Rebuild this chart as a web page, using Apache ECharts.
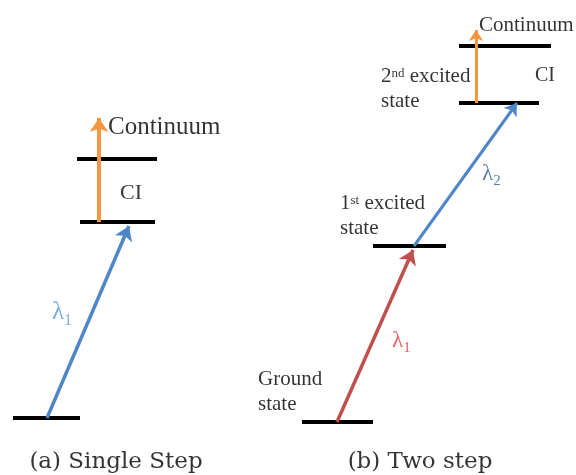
<!DOCTYPE html>
<html><head><meta charset="utf-8">
<script src="https://cdn.jsdelivr.net/npm/echarts@6/dist/echarts.min.js"></script>
<style>html,body{margin:0;padding:0;background:#fff}#c{width:576px;height:475px}</style>
</head><body><div id="c"></div>
<script>
// Energy levels (diagram coordinates): start x, end x, level height
const levelX0 = [13, 80, 77, 302, 373, 459, 459];
const levelX1 = [80, 155, 157, 373, 446, 539, 551];
const levelY  = [418, 222, 159, 422, 246, 103, 46];

// Transitions: from -> to
const arrowFrom = [[47, 418], [99, 222], [337, 422], [414, 246], [476, 103]];
const arrowTo   = [[129, 226], [99, 118], [413, 250], [517, 103], [476, 30]];
const arrowKind = ['blueA', 'orange', 'red', 'blueB', 'orangeS'];

// Text labels
const labelText = ['Continuum', 'CI', 'λ1', 'Continuum', 'CI', '2nd excited|state', '1st excited|state', 'Ground|state', 'λ2', 'λ1b', '(a) Single Step', '(b) Two step'];
const labelPos  = [[108, 127], [131, 193], [52, 312], [479, 25], [535, 76], [381, 89], [340, 216], [258, 392], [482, 173], [392, 340], [116, 462], [420, 462]];

const serif = '"Liberation Serif", "Times New Roman", serif';
const styles = {
  blueA:   {color: '#4f86c6', width: 3.5, size: [12, 14]},
  orange:  {color: '#f7963f', width: 4, size: [15, 14]},
  red:     {color: '#c0504d', width: 3.5, size: [12, 14]},
  blueB:   {color: '#4f86c6', width: 3, size: [11, 12]},
  orangeS: {color: '#f7963f', width: 3, size: [11, 11]}
};

const levelData = levelY.map((y, i) => ({coords: [[levelX0[i], y], [levelX1[i], y]]}));
const arrowSeries = arrowFrom.map((f, i) => {
  const s = styles[arrowKind[i]];
  return {
    type: 'lines', coordinateSystem: 'cartesian2d', z: 3,
    symbol: ['none', 'arrow'], symbolSize: s.size,
    lineStyle: {color: s.color, width: s.width, opacity: 1},
    data: [{coords: [f, arrowTo[i]]}]
  };
});

function fmt(t) {
  if (t === 'λ1') return '{la|λ}{subA|1}';
  if (t === 'λ1b') return '{lr|λ}{subR|1}';
  if (t === 'λ2') return '{lb|λ}{subB|2}';
  if (t.indexOf('|') >= 0) {
    const [a, b] = t.split('|');
    const m = a.match(/^(\d)(st|nd)( .*)$/);
    const first = m ? '{s|' + m[1] + '}{sup|' + m[2] + '}{s|' + m[3] + '}' : '{s|' + a + '}';
    return first + '\n{s|' + b + '}';
  }
  return t;
}
function labelStyle(i) {
  const t = labelText[i];
  if (t === 'Continuum' && i === 0) return {fontSize: 25, align: 'left'};
  if (t === 'Continuum') return {fontSize: 21, align: 'left'};
  if (t === 'CI' && i === 1) return {fontSize: 22, align: 'center'};
  if (t === 'CI') return {fontSize: 20, align: 'left'};
  if (t.startsWith('(')) return {fontSize: 23, align: 'center', fontFamily: '"DejaVu Serif", serif'};
  return {align: 'left'};
}
const rich = {
  s: {fontFamily: serif, fontSize: 21, color: '#000', lineHeight: 25, verticalAlign: 'middle'},
  sup: {fontFamily: serif, fontSize: 13, color: '#000', lineHeight: 25, verticalAlign: 'top', padding: [3, 0, 0, 0]},
  la: {fontFamily: serif, fontSize: 25, color: '#5b9bd5', lineHeight: 26, verticalAlign: 'bottom'},
  subA: {fontFamily: serif, fontSize: 16, color: '#5b9bd5', lineHeight: 16, verticalAlign: 'bottom', padding: [0, 0, -4, 0]},
  lr: {fontFamily: serif, fontSize: 23, color: '#e2343f', lineHeight: 24, verticalAlign: 'bottom'},
  subR: {fontFamily: serif, fontSize: 15, color: '#e2343f', lineHeight: 15, verticalAlign: 'bottom', padding: [0, 0, -4, 0]},
  lb: {fontFamily: serif, fontSize: 23, color: '#2f5d9a', lineHeight: 24, verticalAlign: 'bottom'},
  subB: {fontFamily: serif, fontSize: 15, color: '#2f5d9a', lineHeight: 15, verticalAlign: 'bottom', padding: [0, 0, -4, 0]}
};
const textData = labelText.map((t, i) => {
  const st = labelStyle(i);
  return {
    value: labelPos[i],
    label: {
      show: true, position: 'inside', formatter: fmt(t), rich: rich,
      align: st.align, verticalAlign: 'middle',
      fontFamily: st.fontFamily || serif, fontSize: st.fontSize || 21, color: '#000'
    }
  };
});

const chart = echarts.init(document.getElementById('c'), null, {renderer: 'canvas'});
chart.setOption({
  animation: false,
  backgroundColor: '#fff',
  grid: {left: 0, right: 0, top: 0, bottom: 0},
  xAxis: {type: 'value', min: 0, max: 576, show: false},
  yAxis: {type: 'value', min: 0, max: 475, inverse: true, show: false},
  series: [
    {type: 'lines', coordinateSystem: 'cartesian2d', z: 2, symbol: 'none',
     lineStyle: {color: '#000', width: 4, opacity: 1}, data: levelData},
    ...arrowSeries,
    {type: 'scatter', symbolSize: 0, z: 5, silent: true, data: textData}
  ]
});
</script></body></html>
